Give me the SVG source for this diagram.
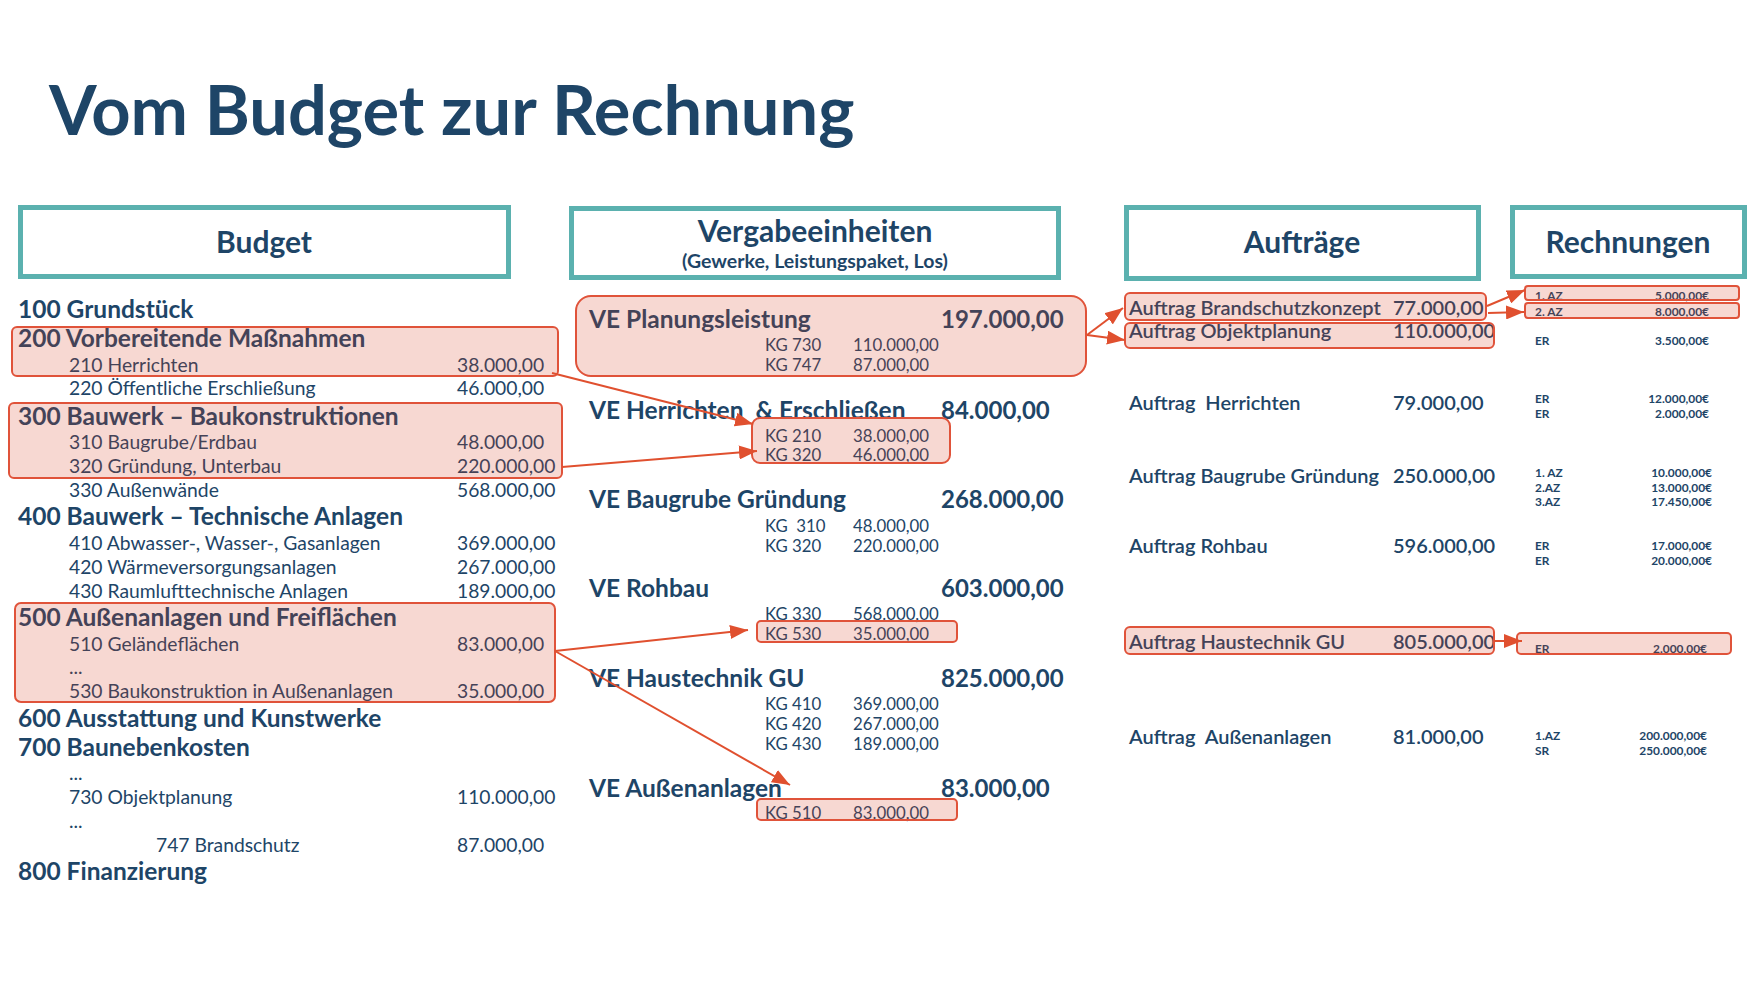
<svg xmlns="http://www.w3.org/2000/svg" width="1756" height="984" viewBox="0 0 1756 984">
<style>
text{font-family:Lato,"Liberation Sans",sans-serif;fill:#1E4567}
.ti{font-size:68.6px;font-weight:700}
.h{font-size:24.5px;font-weight:700}
.hv{font-size:24px;font-weight:700}
.s{font-size:19.3px}
.hd{font-size:30px;font-weight:700;text-anchor:middle}
.sub{font-size:19.5px;font-weight:700;text-anchor:middle}
.kg{font-size:16.8px}
.au{font-size:20px;font-weight:600}
.rn{font-size:11.9px;font-weight:700}
.rv{text-anchor:end}
.pre{white-space:pre}
.hb{fill:#fff;stroke:#5BB1AF;stroke-width:5}
.pk{fill:#D63C1E;fill-opacity:.2;stroke:#E0533A;stroke-width:2}
.cn{stroke:#E0502F;stroke-width:2;fill:none;marker-end:url(#ah)}
</style>
<defs>
<marker id="ah" markerUnits="userSpaceOnUse" markerWidth="18" markerHeight="14" refX="18" refY="7" orient="auto">
<path d="M0,0 L18,7 L0,14 z" fill="#E0502F"/>
</marker>
</defs>
<rect width="1756" height="984" fill="#fff"/>
<text id="title" class="ti" x="49" y="135">Vom Budget zur Rechnung</text>

<g id="hdr-budget"><rect class="hb" x="20.5" y="207.5" width="488" height="69"/><text class="hd" x="264" y="253">Budget</text></g>
<g id="hdr-ve"><rect class="hb" x="571.5" y="208.5" width="487" height="69"/><text class="hd" x="815" y="242">Vergabeeinheiten</text><text class="sub" x="815" y="268">(Gewerke, Leistungspaket, Los)</text></g>
<g id="hdr-auftraege"><rect class="hb" x="1126.5" y="207.5" width="352" height="71"/><text class="hd" x="1302" y="253">Aufträge</text></g>
<g id="hdr-rechnungen"><rect class="hb" x="1512.5" y="207.5" width="232" height="69"/><text class="hd" x="1628" y="253">Rechnungen</text></g>

<!-- Budget column -->
<g id="b100"><text class="h" x="18" y="318">100 Grundstück</text></g>
<g id="b200">
<text class="h" x="18" y="347">200 Vorbereitende Maßnahmen</text>
<text class="s" x="69" y="372">210 Herrichten</text><text class="s" x="457" y="372">38.000,00</text>
<rect class="pk" x="12" y="327" width="546" height="49" rx="5"/>
</g>
<g id="b220"><text class="s" x="69" y="395">220 Öffentliche Erschließung</text><text class="s" x="457" y="395">46.000,00</text></g>
<g id="b300">
<text class="h" x="18" y="425">300 Bauwerk – Baukonstruktionen</text>
<text class="s" x="69" y="449">310 Baugrube/Erdbau</text><text class="s" x="457" y="449">48.000,00</text>
<text class="s" x="69" y="473">320 Gründung, Unterbau</text><text class="s" x="457" y="473">220.000,00</text>
<rect class="pk" x="9" y="403" width="553" height="75" rx="5"/>
</g>
<g id="b330"><text class="s" x="69" y="497">330 Außenwände</text><text class="s" x="457" y="497">568.000,00</text></g>
<g id="b400">
<text class="h" x="18" y="525">400 Bauwerk – Technische Anlagen</text>
<text class="s" x="69" y="550">410 Abwasser-, Wasser-, Gasanlagen</text><text class="s" x="457" y="550">369.000,00</text>
<text class="s" x="69" y="574">420 Wärmeversorgungsanlagen</text><text class="s" x="457" y="574">267.000,00</text>
<text class="s" x="69" y="598">430 Raumlufttechnische Anlagen</text><text class="s" x="457" y="598">189.000,00</text>
</g>
<g id="b500">
<text class="h" x="18" y="626">500 Außenanlagen und Freiflächen</text>
<text class="s" x="69" y="651">510 Geländeflächen</text><text class="s" x="457" y="651">83.000,00</text>
<text class="s" x="69" y="674">...</text>
<text class="s" x="69" y="698">530 Baukonstruktion in Außenanlagen</text><text class="s" x="457" y="698">35.000,00</text>
<rect class="pk" x="15" y="603" width="540" height="99" rx="6"/>
</g>
<g id="b600"><text class="h" x="18" y="727">600 Ausstattung und Kunstwerke</text></g>
<g id="b700">
<text class="h" x="18" y="756">700 Baunebenkosten</text>
<text class="s" x="69" y="780">...</text>
<text class="s" x="69" y="804">730 Objektplanung</text><text class="s" x="457" y="804">110.000,00</text>
<text class="s" x="69" y="828">...</text>
<text class="s" x="156" y="852">747 Brandschutz</text><text class="s" x="457" y="852">87.000,00</text>
</g>
<g id="b800"><text class="h" x="18" y="880">800 Finanzierung</text></g>

<!-- VE column -->
<g id="ve-planung">
<text class="h" x="589" y="328">VE Planungsleistung</text><text class="hv" x="941" y="328">197.000,00</text>
<text class="kg" x="765" y="351">KG 730</text><text class="kg" x="853" y="351">110.000,00</text>
<text class="kg" x="765" y="371">KG 747</text><text class="kg" x="853" y="371">87.000,00</text>
<rect class="pk" x="576" y="296" width="510" height="80" rx="15"/>
</g>
<g id="ve-herrichten">
<text class="h pre" x="589" y="419">VE Herrichten  &amp; Erschließen</text><text class="hv" x="941" y="419">84.000,00</text>
<text class="kg" x="765" y="442">KG 210</text><text class="kg" x="853" y="442">38.000,00</text>
<text class="kg" x="765" y="461">KG 320</text><text class="kg" x="853" y="461">46.000,00</text>
<rect class="pk" x="752" y="418" width="198" height="45" rx="8"/>
</g>
<g id="ve-baugrube">
<text class="h" x="589" y="508">VE Baugrube Gründung</text><text class="hv" x="941" y="508">268.000,00</text>
<text class="kg pre" x="765" y="532">KG  310</text><text class="kg" x="853" y="532">48.000,00</text>
<text class="kg" x="765" y="552">KG 320</text><text class="kg" x="853" y="552">220.000,00</text>
</g>
<g id="ve-rohbau">
<text class="h" x="589" y="597">VE Rohbau</text><text class="hv" x="941" y="597">603.000,00</text>
<text class="kg" x="765" y="620">KG 330</text><text class="kg" x="853" y="620">568.000,00</text>
<text class="kg" x="765" y="640">KG 530</text><text class="kg" x="853" y="640">35.000,00</text>
<rect class="pk" x="757" y="621" width="200" height="21" rx="4"/>
</g>
<g id="ve-haustechnik">
<text class="h" x="589" y="687">VE Haustechnik GU</text><text class="hv" x="941" y="687">825.000,00</text>
<text class="kg" x="765" y="710">KG 410</text><text class="kg" x="853" y="710">369.000,00</text>
<text class="kg" x="765" y="730">KG 420</text><text class="kg" x="853" y="730">267.000,00</text>
<text class="kg" x="765" y="750">KG 430</text><text class="kg" x="853" y="750">189.000,00</text>
</g>
<g id="ve-aussen">
<text class="h" x="589" y="797">VE Außenanlagen</text><text class="hv" x="941" y="797">83.000,00</text>
<text class="kg" x="765" y="819">KG 510</text><text class="kg" x="853" y="819">83.000,00</text>
<rect class="pk" x="757" y="799" width="200" height="21" rx="4"/>
</g>

<!-- Auftraege column -->
<g id="a-brand"><text class="au" x="1129" y="315">Auftrag Brandschutzkonzept</text><text class="au" x="1393" y="315">77.000,00</text><rect class="pk" x="1125" y="293" width="361" height="27" rx="5"/></g>
<g id="a-objekt"><text class="au" x="1129" y="338">Auftrag Objektplanung</text><text class="au" x="1393" y="338">110.000,00</text><rect class="pk" x="1125" y="323" width="369" height="25" rx="5"/></g>
<g id="a-herrichten"><text class="au pre" x="1129" y="410">Auftrag  Herrichten</text><text class="au" x="1393" y="410">79.000,00</text></g>
<g id="a-baugrube"><text class="au" x="1129" y="483">Auftrag Baugrube Gründung</text><text class="au" x="1393" y="483">250.000,00</text></g>
<g id="a-rohbau"><text class="au" x="1129" y="553">Auftrag Rohbau</text><text class="au" x="1393" y="553">596.000,00</text></g>
<g id="a-haustechnik"><text class="au" x="1129" y="649">Auftrag Haustechnik GU</text><text class="au" x="1393" y="649">805.000,00</text><rect class="pk" x="1125" y="627" width="369" height="27" rx="5"/></g>
<g id="a-aussen"><text class="au pre" x="1129" y="744">Auftrag  Außenanlagen</text><text class="au" x="1393" y="744">81.000,00</text></g>

<!-- Rechnungen column -->
<g id="r-brand">
<text class="rn" x="1535" y="300">1. AZ</text><text class="rn rv" x="1709" y="300">5.000,00€</text>
<rect class="pk" x="1525" y="286" width="214" height="14" rx="3"/>
<text class="rn" x="1535" y="316">2. AZ</text><text class="rn rv" x="1709" y="316">8.000,00€</text>
<rect class="pk" x="1525" y="303" width="214" height="15" rx="3"/>
</g>
<g id="r-objekt"><text class="rn" x="1535" y="345">ER</text><text class="rn rv" x="1709" y="345">3.500,00€</text></g>
<g id="r-herrichten">
<text class="rn" x="1535" y="403">ER</text><text class="rn rv" x="1709" y="403">12.000,00€</text>
<text class="rn" x="1535" y="418">ER</text><text class="rn rv" x="1709" y="418">2.000,00€</text>
</g>
<g id="r-baugrube">
<text class="rn" x="1535" y="477">1. AZ</text><text class="rn rv" x="1712" y="477">10.000,00€</text>
<text class="rn" x="1535" y="492">2.AZ</text><text class="rn rv" x="1712" y="492">13.000,00€</text>
<text class="rn" x="1535" y="506">3.AZ</text><text class="rn rv" x="1712" y="506">17.450,00€</text>
</g>
<g id="r-rohbau">
<text class="rn" x="1535" y="550">ER</text><text class="rn rv" x="1712" y="550">17.000,00€</text>
<text class="rn" x="1535" y="565">ER</text><text class="rn rv" x="1712" y="565">20.000,00€</text>
</g>
<g id="r-haustechnik">
<text class="rn" x="1535" y="653">ER</text><text class="rn rv" x="1707" y="653">2.000,00€</text>
<rect class="pk" x="1517" y="633" width="214" height="21" rx="4"/>
</g>
<g id="r-aussen">
<text class="rn" x="1535" y="740">1.AZ</text><text class="rn rv" x="1707" y="740">200.000,00€</text>
<text class="rn" x="1535" y="755">SR</text><text class="rn rv" x="1707" y="755">250.000,00€</text>
</g>

<g id="connectors">
<line class="cn" x1="552" y1="373" x2="753" y2="424"/>
<line class="cn" x1="562" y1="467" x2="757" y2="451"/>
<line class="cn" x1="555" y1="651" x2="748" y2="630"/>
<line class="cn" x1="555" y1="651" x2="790" y2="785"/>
<line class="cn" x1="1087" y1="335" x2="1123" y2="308"/>
<line class="cn" x1="1087" y1="335" x2="1125" y2="340"/>
<line class="cn" x1="1487" y1="306" x2="1525" y2="290"/>
<line class="cn" x1="1488" y1="313" x2="1524" y2="312"/>
<line class="cn" x1="1494" y1="641" x2="1522" y2="641"/>
</g>
</svg>
